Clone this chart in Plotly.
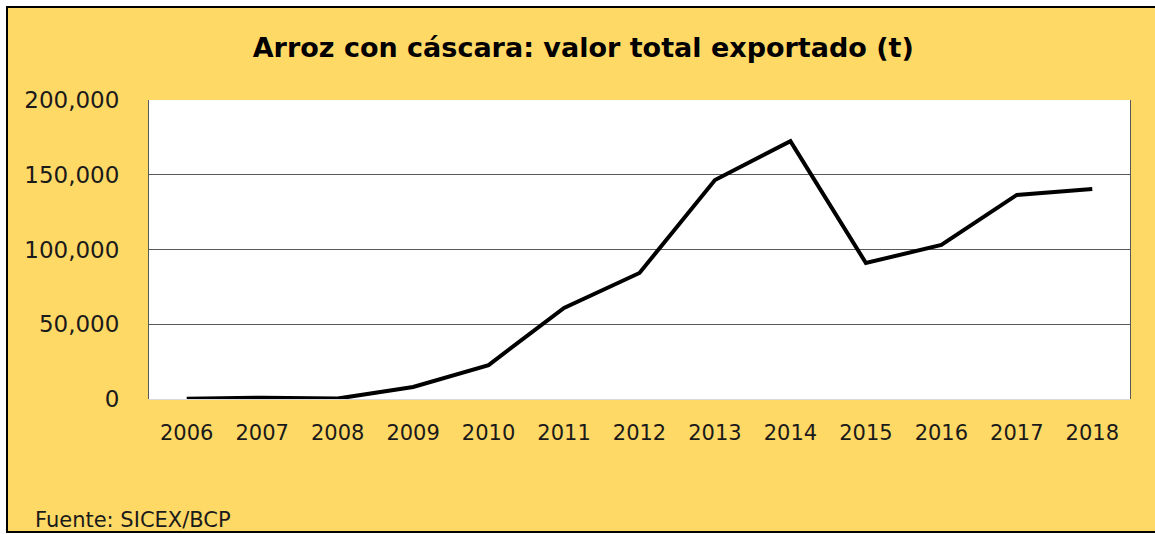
import plotly.graph_objects as go

years = ["2006", "2007", "2008", "2009", "2010", "2011", "2012",
         "2013", "2014", "2015", "2016", "2017", "2018"]
exports_t = [200, 900, 300, 8000, 22700, 60900, 84300,
             146500, 172500, 91000, 103000, 136500, 140500]
y_ticks = [0, 50000, 100000, 150000, 200000]

W, H = 1155, 534
ML, MR, MT, MB = 149, 25, 100, 135
PW, PH = W - ML - MR, H - MT - MB
FONT = "DejaVu Sans, Verdana, sans-serif"
GOLD = "#FFD966"


def px(x):
    return (x - ML) / PW


def py(y):
    return (H - MB - y) / PH


fig = go.Figure(
    go.Scatter(
        x=years,
        y=exports_t,
        mode="lines",
        line=dict(color="black", width=4),
        hovertemplate="%{x}: %{y:,.0f} t<extra></extra>",
    )
)

fig.update_layout(
    width=W,
    height=H,
    margin=dict(l=ML, r=MR, t=MT, b=MB),
    paper_bgcolor="white",
    plot_bgcolor="white",
    showlegend=False,
    font=dict(family=FONT, color="black", size=21),
    title=dict(
        text="<b>Arroz con cáscara: valor total exportado (t)</b>",
        x=0.505,
        xanchor="center",
        y=1 - 48 / H,
        yanchor="middle",
        font=dict(family=FONT, size=27, color="black"),
    ),
    xaxis=dict(
        type="category",
        range=[-0.5, len(years) - 0.5],
        showgrid=False,
        showline=False,
        ticks="",
        ticklabelstandoff=19,
        tickfont=dict(size=21, color="#1a1a1a"),
    ),
    yaxis=dict(
        range=[0, 200000],
        tickvals=y_ticks,
        tickformat=",d",
        showgrid=True,
        gridcolor="#595959",
        gridwidth=1,
        zeroline=True,
        zerolinecolor="#d9d9d9",
        zerolinewidth=1,
        showline=True,
        linecolor="#595959",
        linewidth=1,
        mirror=True,
        ticks="",
        ticklabelstandoff=24,
        tickfont=dict(size=23, color="#1a1a1a"),
    ),
    shapes=[
        dict(
            type="rect", xref="paper", yref="paper", layer="below",
            x0=px(7), x1=px(1160), y0=py(532), y1=py(7),
            fillcolor=GOLD, line=dict(color="black", width=2),
        ),
        dict(
            type="rect", xref="paper", yref="paper", layer="below",
            x0=0, x1=1, y0=0, y1=1,
            fillcolor="white", line=dict(width=0),
        ),
    ],
    annotations=[
        dict(
            text="Fuente: SICEX/BCP",
            xref="paper", yref="paper",
            x=px(33), y=py(520),
            xanchor="left", yanchor="middle",
            showarrow=False,
            font=dict(family=FONT, size=21, color="#1a1a1a"),
        )
    ],
)

# the page body has a default 8px margin; drop it so the figure fills the window
fig.write_html(
    "out.html",
    config={"displayModeBar": False},
    post_script="document.body.style.margin='0';",
)
